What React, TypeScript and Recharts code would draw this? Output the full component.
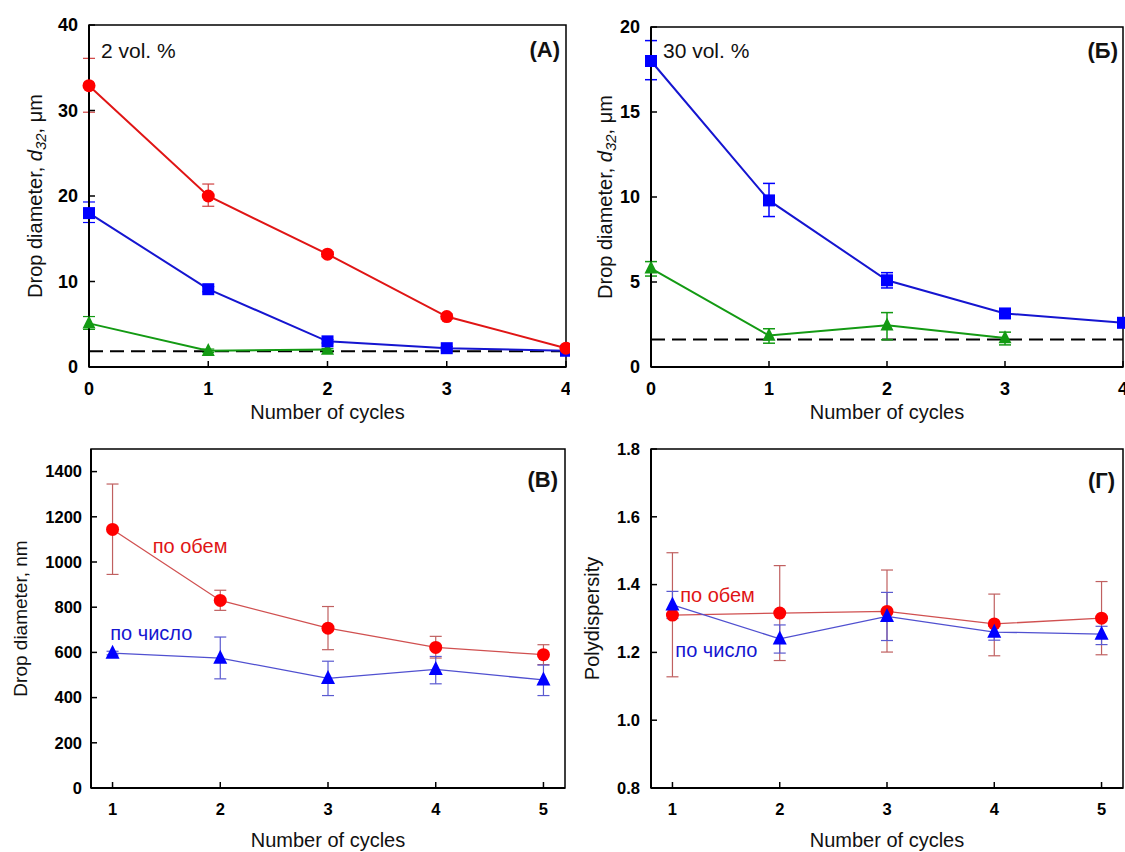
import React from 'react';
import { LineChart, Line, XAxis, YAxis, ErrorBar, ReferenceLine, ReferenceArea, ReferenceDot, Label } from 'recharts';

// (A) 2 vol. %
const cyclesA = [0, 1, 2, 3, 4];
const aRed = [32.9, 20.0, 13.2, 5.9, 2.2];
const aRedErr = [[3.1, 3.2], [1.2, 1.4], [0.3, 0.3], [0.3, 0.3], [0.2, 0.2]];
const aBlue = [18.0, 9.1, 3.0, 2.2, 1.9];
const aBlueErr = [[1.1, 1.3], [0.3, 0.3], [0.2, 0.2], [0.2, 0.2], [0.1, 0.1]];
const aGreenCycles = [0, 1, 2];
const aGreen = [5.1, 1.9, 2.05];
const aGreenErr = [[0.7, 0.8], [0.2, 0.2], [0.1, 0.1]];
const aDashed = 1.85;
const aTicksY = [0, 10, 20, 30, 40];

// (Б) 30 vol. %
const cyclesB = [0, 1, 2, 3, 4];
const bBlue = [18.0, 9.8, 5.1, 3.15, 2.6];
const bBlueErr = [[1.1, 1.2], [0.95, 1.0], [0.45, 0.45], [0.25, 0.25], [0.1, 0.1]];
const bGreenCycles = [0, 1, 2, 3];
const bGreen = [5.8, 1.85, 2.45, 1.7];
const bGreenErr = [[0.45, 0.4], [0.45, 0.4], [0.85, 0.75], [0.4, 0.35]];
const bDashed = 1.62;
const bTicksY = [0, 5, 10, 15, 20];

// (B) drop diameter, nm
const cyclesC = [1, 2, 3, 4, 5];
const cVolume = [1144, 830, 707, 622, 590];
const cVolumeErr = [[199, 201], [44, 45], [95, 96], [47, 49], [44, 44]];
const cNumber = [597, 575, 485, 525, 478];
const cNumberErr = [[8, 8], [92, 93], [76, 76], [64, 57], [69, 66]];
const cTicksY = [0, 200, 400, 600, 800, 1000, 1200, 1400];

// (Г) polydispersity
const dVolume = [1.31, 1.316, 1.321, 1.284, 1.301];
const dVolumeErr = [[0.182, 0.184], [0.14, 0.14], [0.12, 0.122], [0.094, 0.088], [0.108, 0.108]];
const dNumber = [1.34, 1.24, 1.306, 1.26, 1.254];
const dNumberErr = [[0.04, 0.04], [0.042, 0.041], [0.071, 0.071], [0.024, 0.017], [0.031, 0.023]];
const dTicksY = [0.8, 1.0, 1.2, 1.4, 1.6, 1.8];

const xTicksTop = [0, 1, 2, 3, 4];
const xTicksBottom = [1, 2, 3, 4, 5];

// where the "по обем" / "по число" notes sit, in data units
const cVolumeNote = { x: 1.72, y: 1073 };
const cNumberNote = { x: 1.36, y: 685 };
const dVolumeNote = { x: 1.42, y: 1.369 };
const dNumberNote = { x: 1.41, y: 1.207 };

const RED = '#ff0000';
const BLUE = '#0000ff';
const GREEN = '#139a13';

const rows = (xs: number[], vs: number[], es: number[][]) => xs.map((x, i) => ({ x, v: vs[i], e: es[i] }));

const circle = (fill: string, r: number) => (p: any) => (
  <circle key={`c${p.index}`} cx={p.cx} cy={p.cy} r={r} fill={fill} />
);
const square = (fill: string, s: number) => (p: any) => (
  <rect key={`s${p.index}`} x={p.cx - s / 2} y={p.cy - s / 2} width={s} height={s} fill={fill} />
);
const triangle = (fill: string, s: number) => (p: any) => (
  <polygon
    key={`t${p.index}`}
    points={`${p.cx},${p.cy - s * 0.6} ${p.cx - s / 2},${p.cy + s * 0.4} ${p.cx + s / 2},${p.cy + s * 0.4}`}
    fill={fill}
  />
);

const yTitle = (node: React.ReactNode, dx: number, size: number) => (p: any) => {
  const vb = p.viewBox;
  const x = vb.x + dx;
  const y = vb.y + vb.height / 2;
  return (
    <text x={x} y={y} transform={`rotate(-90 ${x} ${y})`} textAnchor="middle" dominantBaseline="central" fontSize={size} fill="#111">
      {node}
    </text>
  );
};

const xTitle = (dy: number) => (p: any) => {
  const vb = p.viewBox;
  return (
    <text x={vb.x + vb.width / 2} y={vb.y + dy} textAnchor="middle" dominantBaseline="central" fontSize={20} fill="#111">
      Number of cycles
    </text>
  );
};

const tagText = (text: string, dx: number, dy: number) => (p: any) => {
  const vb = p.viewBox;
  return (
    <text x={vb.x + vb.width - dx} y={vb.y + dy} textAnchor="end" dominantBaseline="central" fontSize={22} fontWeight={700} fill="#111">
      {text}
    </text>
  );
};

const noteText = (text: string, dx: number, dy: number) => (p: any) => {
  const vb = p.viewBox;
  return (
    <text x={vb.x + dx} y={vb.y + dy} dominantBaseline="central" fontSize={21} fill="#111">
      {text}
    </text>
  );
};

const d32 = (
  <>
    Drop diameter, <tspan fontStyle="italic">d</tspan>
    <tspan fontStyle="italic" fontSize={15} dy={5}>32</tspan>
    <tspan dy={-5}>, μm</tspan>
  </>
);

const fmt1 = (v: number) => v.toFixed(1);

const axisLine = { stroke: '#000', strokeWidth: 2 };
const tickLine = { stroke: '#000', strokeWidth: 1.5 };

const App = () => {
  const tickTop = { fontSize: 18, fontWeight: 700, fill: '#000' };
  const tickBottom = { fontSize: 16.5, fontWeight: 700, fill: '#000' };

  return (
    <div style={{ position: 'absolute', left: 0, top: 0, width: 1125, height: 852, background: '#fff', fontFamily: '"Liberation Sans", Arial, sans-serif' }}>
      {/* (A) */}
      <div style={{ position: 'absolute', left: 0, top: 0 }}>
        <LineChart width={570} height={430} margin={{ top: 25, right: 4, bottom: 0, left: 0 }}>
          <XAxis dataKey="x" type="number" domain={[0, 4]} ticks={xTicksTop} interval={0} height={63}
            axisLine={axisLine} tickLine={tickLine} tickSize={-6} tickMargin={21} tick={tickTop} label={xTitle(45)} />
          <YAxis type="number" domain={[0, 40]} ticks={aTicksY} interval={0} width={89}
            axisLine={axisLine} tickLine={tickLine} tickSize={-6} tickMargin={17} tick={tickTop} label={yTitle(d32, 35, 20)} />
          <ReferenceArea x1={0} x2={4} y1={0} y2={40} fill="none" stroke="#000" strokeWidth={1.5} fillOpacity={0}>
            <Label content={tagText('(A)', 6, 24)} />
            <Label content={noteText('2 vol. %', 12, 25)} />
          </ReferenceArea>
          <ReferenceLine y={aDashed} stroke="#000" strokeWidth={2} strokeDasharray="14 7" />
          <Line data={rows(aGreenCycles, aGreen, aGreenErr)} dataKey="v" stroke={GREEN} strokeWidth={2} dot={triangle(GREEN, 13)} isAnimationActive={false}>
            <ErrorBar dataKey="e" direction="y" width={6} stroke={GREEN} strokeWidth={1.2} isAnimationActive={false} />
          </Line>
          <Line data={rows(cyclesA, aBlue, aBlueErr)} dataKey="v" stroke="#1515d0" strokeWidth={2} dot={square(BLUE, 12)} isAnimationActive={false}>
            <ErrorBar dataKey="e" direction="y" width={6} stroke={BLUE} strokeWidth={1.2} isAnimationActive={false} />
          </Line>
          <Line data={rows(cyclesA, aRed, aRedErr)} dataKey="v" stroke="#e01515" strokeWidth={2} dot={circle(RED, 6.5)} isAnimationActive={false}>
            <ErrorBar dataKey="e" direction="y" width={6} stroke="#d04040" strokeWidth={1.2} isAnimationActive={false} />
          </Line>
        </LineChart>
      </div>

      {/* (Б) */}
      <div style={{ position: 'absolute', left: 560, top: 0 }}>
        <LineChart width={565} height={430} margin={{ top: 27, right: 2, bottom: 0, left: 0 }}>
          <XAxis dataKey="x" type="number" domain={[0, 4]} ticks={xTicksTop} interval={0} height={63}
            axisLine={axisLine} tickLine={tickLine} tickSize={-6} tickMargin={21} tick={tickTop} label={xTitle(45)} />
          <YAxis type="number" domain={[0, 20]} ticks={bTicksY} interval={0} width={91}
            axisLine={axisLine} tickLine={tickLine} tickSize={-6} tickMargin={17} tick={tickTop} label={yTitle(d32, 45, 20)} />
          <ReferenceArea x1={0} x2={4} y1={0} y2={20} fill="none" stroke="#000" strokeWidth={1.5} fillOpacity={0}>
            <Label content={tagText('(Б)', 5, 23)} />
            <Label content={noteText('30 vol. %', 12, 23)} />
          </ReferenceArea>
          <ReferenceLine y={bDashed} stroke="#000" strokeWidth={2} strokeDasharray="14 7" />
          <Line data={rows(bGreenCycles, bGreen, bGreenErr)} dataKey="v" stroke={GREEN} strokeWidth={2} dot={triangle(GREEN, 13)} isAnimationActive={false}>
            <ErrorBar dataKey="e" direction="y" width={6} stroke={GREEN} strokeWidth={1.5} isAnimationActive={false} />
          </Line>
          <Line data={rows(cyclesB, bBlue, bBlueErr)} dataKey="v" stroke="#1515d0" strokeWidth={2} dot={square(BLUE, 12)} isAnimationActive={false}>
            <ErrorBar dataKey="e" direction="y" width={6} stroke={BLUE} strokeWidth={1.5} isAnimationActive={false} />
          </Line>
        </LineChart>
      </div>

      {/* (B) */}
      <div style={{ position: 'absolute', left: 0, top: 425 }}>
        <LineChart width={570} height={427} margin={{ top: 24, right: 5, bottom: 0, left: 0 }}>
          <XAxis dataKey="x" type="number" domain={[0.8, 5.2]} ticks={xTicksBottom} interval={0} height={64}
            axisLine={axisLine} tickLine={tickLine} tickSize={-6} tickMargin={21} tick={tickBottom} label={xTitle(52)} />
          <YAxis type="number" domain={[0, 1500]} ticks={cTicksY} interval={0} width={91}
            axisLine={axisLine} tickLine={tickLine} tickSize={-6} tickMargin={15} tick={tickBottom} label={yTitle('Drop diameter, nm', 20, 19)} />
          <ReferenceArea x1={0.8} x2={5.2} y1={0} y2={1500} fill="none" stroke="#000" strokeWidth={1.5} fillOpacity={0}>
            <Label content={tagText('(B)', 7, 30)} />
          </ReferenceArea>
          <Line data={rows(cyclesC, cVolume, cVolumeErr)} dataKey="v" stroke="#d05050" strokeWidth={1.3} dot={circle(RED, 6.5)} isAnimationActive={false}>
            <ErrorBar dataKey="e" direction="y" width={6} stroke="#c06060" strokeWidth={1.2} isAnimationActive={false} />
          </Line>
          <Line data={rows(cyclesC, cNumber, cNumberErr)} dataKey="v" stroke="#5050d0" strokeWidth={1.3} dot={triangle(BLUE, 14)} isAnimationActive={false}>
            <ErrorBar dataKey="e" direction="y" width={6} stroke="#5a5ad0" strokeWidth={1.2} isAnimationActive={false} />
          </Line>
          <ReferenceDot x={cVolumeNote.x} y={cVolumeNote.y} r={0} stroke="none" label={{ value: 'по обем', position: 'center', fill: '#e01515', fontSize: 20 }} />
          <ReferenceDot x={cNumberNote.x} y={cNumberNote.y} r={0} stroke="none" label={{ value: 'по число', position: 'center', fill: '#1515d0', fontSize: 20 }} />
        </LineChart>
      </div>

      {/* (Г) */}
      <div style={{ position: 'absolute', left: 560, top: 425 }}>
        <LineChart width={565} height={427} margin={{ top: 24, right: 2, bottom: 0, left: 0 }}>
          <XAxis dataKey="x" type="number" domain={[0.8, 5.2]} ticks={xTicksBottom} interval={0} height={64}
            axisLine={axisLine} tickLine={tickLine} tickSize={-6} tickMargin={21} tick={tickBottom} label={xTitle(52)} />
          <YAxis type="number" domain={[0.8, 1.8]} ticks={dTicksY} interval={0} width={91} tickFormatter={fmt1}
            axisLine={axisLine} tickLine={tickLine} tickSize={-6} tickMargin={17} tick={tickBottom} label={yTitle('Polydispersity', 32, 20)} />
          <ReferenceArea x1={0.8} x2={5.2} y1={0.8} y2={1.8} fill="none" stroke="#000" strokeWidth={1.5} fillOpacity={0}>
            <Label content={tagText('(Г)', 8, 31)} />
          </ReferenceArea>
          <Line data={rows(cyclesC, dVolume, dVolumeErr)} dataKey="v" stroke="#d05050" strokeWidth={1.3} dot={circle(RED, 6.5)} isAnimationActive={false}>
            <ErrorBar dataKey="e" direction="y" width={6} stroke="#c06060" strokeWidth={1.2} isAnimationActive={false} />
          </Line>
          <Line data={rows(cyclesC, dNumber, dNumberErr)} dataKey="v" stroke="#5050d0" strokeWidth={1.3} dot={triangle(BLUE, 14)} isAnimationActive={false}>
            <ErrorBar dataKey="e" direction="y" width={6} stroke="#5a5ad0" strokeWidth={1.2} isAnimationActive={false} />
          </Line>
          <ReferenceDot x={dVolumeNote.x} y={dVolumeNote.y} r={0} stroke="none" label={{ value: 'по обем', position: 'center', fill: '#e01515', fontSize: 20 }} />
          <ReferenceDot x={dNumberNote.x} y={dNumberNote.y} r={0} stroke="none" label={{ value: 'по число', position: 'center', fill: '#1515d0', fontSize: 20 }} />
        </LineChart>
      </div>
    </div>
  );
};

export default App;
